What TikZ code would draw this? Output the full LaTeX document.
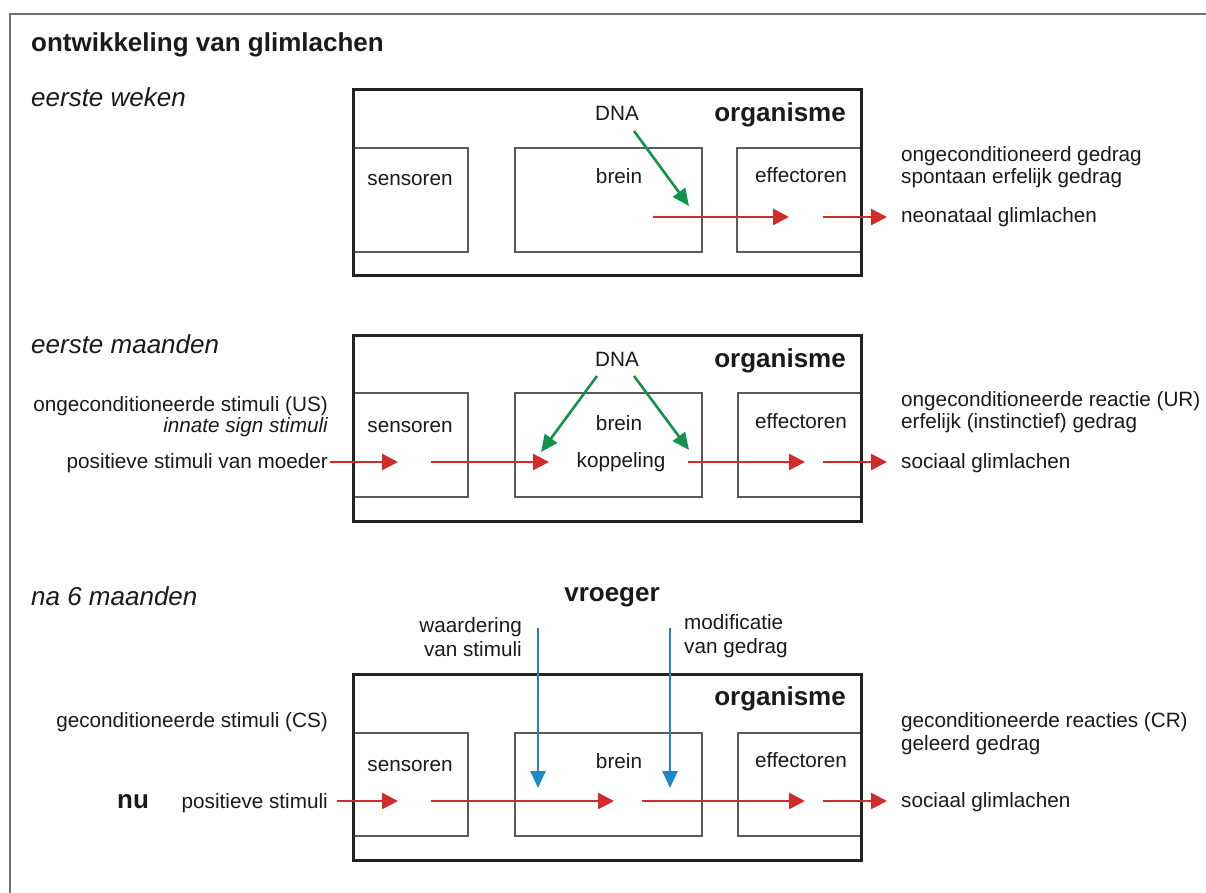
\documentclass[tikz,border=0pt]{standalone}
\usepackage{fontspec}
\setmainfont{Liberation Sans}
\usetikzlibrary{arrows.meta}
\definecolor{framecol}{HTML}{707070}
\definecolor{boxline}{HTML}{222222}
\definecolor{partline}{HTML}{5A5A5A}
\definecolor{arrred}{HTML}{D22B2B}
\definecolor{arrgreen}{HTML}{13924B}
\definecolor{arrblue}{HTML}{1C88C7}
\definecolor{txt}{HTML}{1A1A1A}
\tikzset{
  x=1pt, y=-1pt,
  lbl/.style={inner sep=0pt, font=\fontsize{20.7}{24}\selectfont, text=txt},
  lbli/.style={lbl, font=\fontsize{20.7}{24}\selectfont\itshape},
  head/.style={inner sep=0pt, font=\fontsize{26}{30}\selectfont\bfseries, text=txt},
  phase/.style={inner sep=0pt, font=\fontsize{26}{30}\selectfont\itshape, text=txt},
  orgbox/.style={draw=boxline, line width=3pt, inner sep=0pt, outer sep=0pt, anchor=north west, minimum width=508pt},
  partbox/.style={draw=partline, line width=1.6pt, inner sep=0pt, outer sep=0pt, anchor=north west},
  redarr/.style={draw=arrred, line width=2.6pt, -{Triangle[length=16pt,width=16pt]}},
  greenarr/.style={draw=arrgreen, line width=2.6pt, -{Triangle[length=17pt,width=15pt]}},
  bluearr/.style={draw=arrblue, line width=2.6pt, -{Triangle[length=17pt,width=15pt]}},
}
\begin{document}
\begin{tikzpicture}
\useasboundingbox (0,0) rectangle (1206,893);
\fill[white] (0,0) rectangle (1206,893);
% outer frame (open at right and bottom)
\draw[framecol, line width=2pt] (10,893) -- (10,14) -- (1206,14);

\node[head, anchor=base west] (title) at (31,52) {ontwikkeling van glimlachen};
\node[phase, anchor=base west] (ph1) at (31,107) {eerste weken};
\node[phase, anchor=base west] (ph2) at (31,353) {eerste maanden};
\node[phase, anchor=base west] (ph3) at (31,605) {na 6 maanden};

% ---------------- panel 1 ----------------
\node[partbox, minimum width=115pt, minimum height=104pt] (sen1) at (353,148) {};
\node[partbox, minimum width=187pt, minimum height=104pt] (bre1) at (515,148) {};
\node[partbox, minimum width=124pt, minimum height=104pt] (eff1) at (737,148) {};
\node[orgbox, minimum height=185pt] (org1) at (353,90) {};
\node[lbl, anchor=base] (sent1) at (410,186) {sensoren};
\node[lbl, anchor=base] (bret1) at (619,184) {brein};
\node[lbl, anchor=base] (efft1) at (801,183) {effectoren};
\node[lbl, anchor=base west] (dna1) at (595,121) {DNA};
\node[head, anchor=base east] (orgt1) at (846,122) {organisme};
\node[lbl, anchor=base west] (r1a) at (901,162) {ongeconditioneerd gedrag};
\node[lbl, anchor=base west] (r1b) at (901,184) {spontaan erfelijk gedrag};
\node[lbl, anchor=base west] (r1c) at (901,223) {neonataal glimlachen};
\coordinate (g1s) at (634,131);
\coordinate (g1e) at (689,206);
\draw[greenarr] (g1s) -- (g1e);
\coordinate (a11) at (653,217); \coordinate (a11e) at (789,217);
\coordinate (a12) at (823,217); \coordinate (a12e) at (887,217);
\draw[redarr] (a11) -- (a11e);
\draw[redarr] (a12) -- (a12e);

% ---------------- panel 2 ----------------
\node[partbox, minimum width=115pt, minimum height=104pt] (sen2) at (353,393) {};
\node[partbox, minimum width=187pt, minimum height=104pt] (bre2) at (515,393) {};
\node[partbox, minimum width=123pt, minimum height=104pt] (eff2) at (738,393) {};
\node[orgbox, minimum height=186pt] (org2) at (353,335) {};
\node[lbl, anchor=base] (sent2) at (410,432) {sensoren};
\node[lbl, anchor=base] (bret2) at (619,430) {brein};
\node[lbl, anchor=base] (kop2) at (621,467) {koppeling};
\node[lbl, anchor=base] (efft2) at (801,428) {effectoren};
\node[lbl, anchor=base west] (dna2) at (595,366) {DNA};
\node[head, anchor=base east] (orgt2) at (846,367) {organisme};
\node[lbl, anchor=base east] (l2a) at (328,411) {ongeconditioneerde stimuli (US)};
\node[lbli, anchor=base east] (l2b) at (328,432) {innate sign stimuli};
\node[lbl, anchor=base east] (l2c) at (328,468) {positieve stimuli van moeder};
\node[lbl, anchor=base west] (r2a) at (901,406) {ongeconditioneerde reactie (UR)};
\node[lbl, anchor=base west] (r2b) at (901,428) {erfelijk (instinctief) gedrag};
\node[lbl, anchor=base west] (r2c) at (901,468) {sociaal glimlachen};
\coordinate (g2ls) at (597,376); \coordinate (g2le) at (541,452);
\coordinate (g2rs) at (634,376); \coordinate (g2re) at (689,450);
\draw[greenarr] (g2ls) -- (g2le);
\draw[greenarr] (g2rs) -- (g2re);
\coordinate (a21) at (330,462); \coordinate (a21e) at (398,462);
\coordinate (a22) at (431,462); \coordinate (a22e) at (549,462);
\coordinate (a23) at (688,462); \coordinate (a23e) at (805,462);
\coordinate (a24) at (823,462); \coordinate (a24e) at (887,462);
\draw[redarr] (a21) -- (a21e);
\draw[redarr] (a22) -- (a22e);
\draw[redarr] (a23) -- (a23e);
\draw[redarr] (a24) -- (a24e);

% ---------------- panel 3 ----------------
\node[partbox, minimum width=115pt, minimum height=103pt] (sen3) at (353,733) {};
\node[partbox, minimum width=187pt, minimum height=103pt] (bre3) at (515,733) {};
\node[partbox, minimum width=123pt, minimum height=103pt] (eff3) at (738,733) {};
\node[orgbox, minimum height=186pt] (org3) at (353,674) {};
\node[lbl, anchor=base] (sent3) at (410,771) {sensoren};
\node[lbl, anchor=base] (bret3) at (619,768) {brein};
\node[lbl, anchor=base] (efft3) at (801,767) {effectoren};
\node[head, anchor=base east] (orgt3) at (846,705) {organisme};
\node[head, anchor=base] (vroeg) at (612,601) {vroeger};
\node[lbl, anchor=base east] (w3a) at (522,632) {waardering};
\node[lbl, anchor=base east] (w3b) at (522,656) {van stimuli};
\node[lbl, anchor=base west] (m3a) at (684,629) {modificatie};
\node[lbl, anchor=base west] (m3b) at (684,653) {van gedrag};
\node[lbl, anchor=base east] (l3a) at (328,727) {geconditioneerde stimuli (CS)};
\node[head, anchor=base west] (nu) at (117,808) {nu};
\node[lbl, anchor=base east] (l3b) at (328,808) {positieve stimuli};
\node[lbl, anchor=base west] (r3a) at (901,727) {geconditioneerde reacties (CR)};
\node[lbl, anchor=base west] (r3b) at (901,750) {geleerd gedrag};
\node[lbl, anchor=base west] (r3c) at (901,807) {sociaal glimlachen};
\coordinate (b3ls) at (538,628); \coordinate (b3le) at (538,788);
\coordinate (b3rs) at (670,628); \coordinate (b3re) at (670,788);
\draw[bluearr] (b3ls) -- (b3le);
\draw[bluearr] (b3rs) -- (b3re);
\coordinate (a31) at (337,801); \coordinate (a31e) at (398,801);
\coordinate (a32) at (431,801); \coordinate (a32e) at (614,801);
\coordinate (a33) at (642,801); \coordinate (a33e) at (805,801);
\coordinate (a34) at (823,801); \coordinate (a34e) at (887,801);
\draw[redarr] (a31) -- (a31e);
\draw[redarr] (a32) -- (a32e);
\draw[redarr] (a33) -- (a33e);
\draw[redarr] (a34) -- (a34e);
\end{tikzpicture}
\end{document}
